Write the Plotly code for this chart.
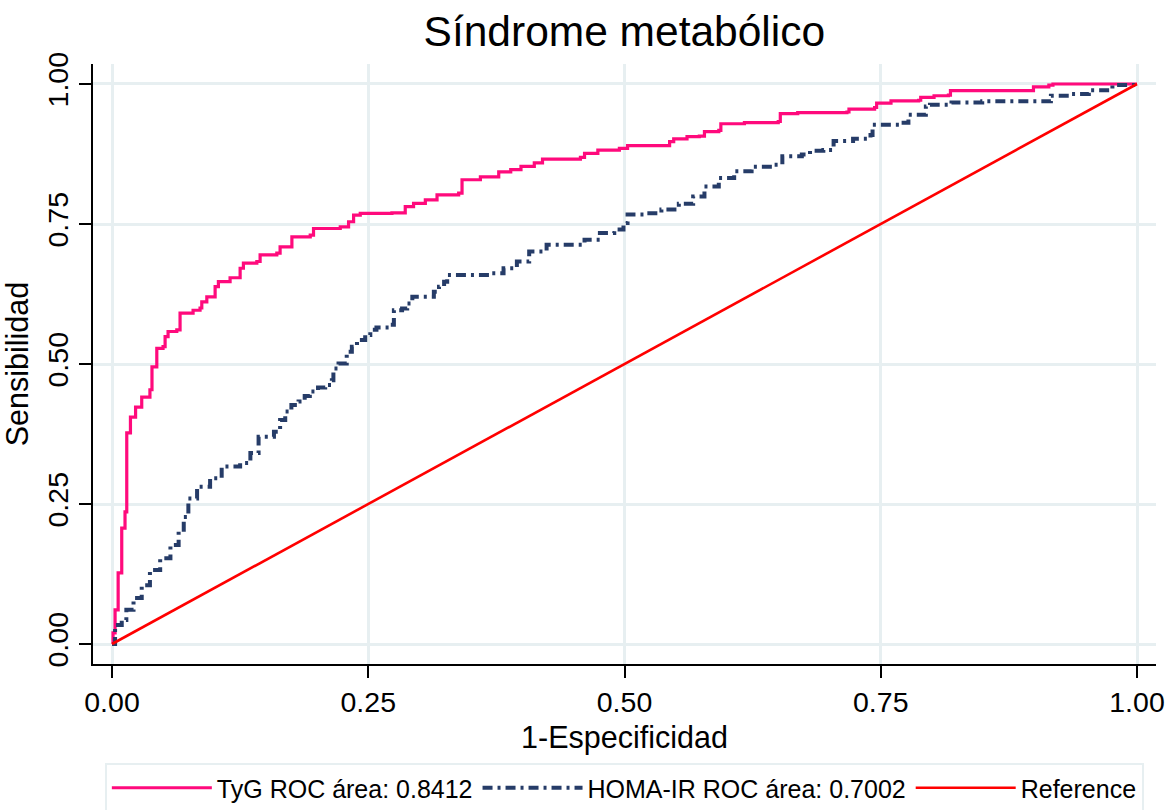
import plotly.graph_objects as go

# ROC curve for TyG (false positive rate, sensitivity)
tyg_fpr = [0, 0.001, 0.003, 0.006, 0.0095, 0.0127, 0.0144, 0.018, 0.023, 0.029,
           0.037, 0.039, 0.0437, 0.0498, 0.0518, 0.0547, 0.0632, 0.0664, 0.0791, 0.0859,
           0.0876, 0.0925, 0.1006, 0.1038, 0.1152, 0.125, 0.1282, 0.1413, 0.1445, 0.1608,
           0.164, 0.1755, 0.1934, 0.1966, 0.2227, 0.2308, 0.2357, 0.2422, 0.2731, 0.2861,
           0.2942, 0.3057, 0.3171, 0.3382, 0.3415, 0.3594, 0.3773, 0.389, 0.399, 0.412,
           0.420, 0.457, 0.461, 0.474, 0.495, 0.503, 0.540, 0.544, 0.548, 0.561,
           0.573, 0.578, 0.592, 0.594, 0.617, 0.650, 0.652, 0.669, 0.717, 0.719,
           0.744, 0.746, 0.760, 0.787, 0.789, 0.802, 0.816, 0.818, 0.897, 0.899,
           0.914, 0.918, 1.0]
tyg_tpr = [0, 0.020, 0.061, 0.127, 0.207, 0.236, 0.377, 0.405, 0.423, 0.441,
           0.454, 0.495, 0.528, 0.531, 0.549, 0.558, 0.561, 0.591, 0.596, 0.600,
           0.611, 0.620, 0.638, 0.647, 0.654, 0.671, 0.680, 0.683, 0.695, 0.698,
           0.709, 0.727, 0.730, 0.742, 0.745, 0.754, 0.766, 0.769, 0.770, 0.781,
           0.787, 0.793, 0.802, 0.805, 0.829, 0.834, 0.843, 0.847, 0.853, 0.859,
           0.866, 0.869, 0.876, 0.882, 0.885, 0.890, 0.890, 0.897, 0.902, 0.906,
           0.907, 0.915, 0.917, 0.929, 0.931, 0.933, 0.947, 0.949, 0.950, 0.955,
           0.958, 0.966, 0.970, 0.971, 0.976, 0.979, 0.980, 0.988, 0.988, 0.995,
           0.998, 1.0, 1.0]

# ROC curve for HOMA-IR
homa_fpr = [0, 0.003, 0.0095, 0.014, 0.021, 0.029, 0.037, 0.047, 0.057, 0.065,
            0.070, 0.0745, 0.083, 0.0957, 0.107, 0.125, 0.135, 0.143, 0.158, 0.164,
            0.169, 0.175, 0.182, 0.188, 0.193, 0.201, 0.208, 0.2145, 0.216, 0.221,
            0.229, 0.234, 0.239, 0.247, 0.252, 0.258, 0.270, 0.275, 0.283, 0.288,
            0.293, 0.307, 0.314, 0.319, 0.324, 0.327, 0.340, 0.369, 0.382, 0.395,
            0.407, 0.424, 0.445, 0.461, 0.476, 0.490, 0.499, 0.503, 0.522, 0.536,
            0.553, 0.567, 0.578, 0.592, 0.607, 0.624, 0.645, 0.654, 0.673, 0.681,
            0.694, 0.704, 0.723, 0.740, 0.742, 0.769, 0.777, 0.794, 0.798, 0.819,
            0.849, 0.910, 0.916, 0.935, 0.953, 0.976, 1.0]
homa_tpr = [0, 0.034, 0.043, 0.061, 0.082, 0.105, 0.132, 0.153, 0.177, 0.204,
            0.227, 0.260, 0.281, 0.296, 0.317, 0.323, 0.341, 0.370, 0.379, 0.400,
            0.415, 0.427, 0.433, 0.443, 0.451, 0.458, 0.4625, 0.471, 0.492, 0.501,
            0.522, 0.531, 0.543, 0.552, 0.561, 0.565, 0.570, 0.596, 0.599, 0.608,
            0.620, 0.620, 0.629, 0.638, 0.647, 0.659, 0.659, 0.662, 0.671, 0.683,
            0.701, 0.713, 0.713, 0.722, 0.734, 0.740, 0.752, 0.767, 0.769, 0.776,
            0.786, 0.799, 0.817, 0.832, 0.844, 0.852, 0.856, 0.871, 0.874, 0.881,
            0.882, 0.898, 0.902, 0.909, 0.927, 0.931, 0.945, 0.960, 0.963, 0.967,
            0.969, 0.969, 0.979, 0.982, 0.989, 0.998, 1.0]

ref_x = [0, 1]
ref_y = [0, 1]

tick_vals = [0, 0.25, 0.5, 0.75, 1.0]
tick_text = ["0.00", "0.25", "0.50", "0.75", "1.00"]

tyg_label = "TyG ROC área: 0.8412"
homa_label = "HOMA-IR ROC área: 0.7002"
ref_label = "Reference"

FONT = "Liberation Sans, Arial, sans-serif"
GRID = "#E7EFF1"

fig = go.Figure()
fig.add_trace(go.Scatter(x=tyg_fpr, y=tyg_tpr, mode="lines", name=tyg_label,
                         line=dict(color="#FF0A7C", width=3.2, shape="hv")))
fig.add_trace(go.Scatter(x=homa_fpr, y=homa_tpr, mode="lines", name=homa_label,
                         line=dict(color="#263C68", width=4, shape="hv",
                                   dash="10px,5px,3px,5px")))
fig.add_trace(go.Scatter(x=ref_x, y=ref_y, mode="lines", name=ref_label,
                         line=dict(color="#FF0000", width=2.6)))

axis_common = dict(
    tickvals=tick_vals, ticktext=tick_text,
    showgrid=True, gridcolor=GRID, gridwidth=3,
    zeroline=False, showline=True, linecolor="black", linewidth=1.5,
    ticks="outside", ticklen=12, tickwidth=1.5, tickcolor="black",
    tickfont=dict(size=28.5, color="black", family=FONT),
    automargin=False,
)

fig.update_xaxes(range=[-0.01854, 1.01854],
                 title=dict(text="1-Especificidad", font=dict(size=30.5, color="black", family=FONT),
                            standoff=10),
                 **axis_common)
fig.update_yaxes(range=[-0.0357, 1.0357], tickangle=-90,
                 title=dict(text="Sensibilidad", font=dict(size=30.5, color="black", family=FONT),
                            standoff=4),
                 **axis_common)

fig.update_layout(
    width=1167, height=810,
    margin=dict(l=93, r=11, t=64, b=146),
    paper_bgcolor="white", plot_bgcolor="white",
    font=dict(family=FONT, color="black"),
    title=dict(text="Síndrome metabólico", x=0.535, xanchor="center",
               y=0.962, yanchor="middle",
               font=dict(size=42.5, color="black", family=FONT)),
    showlegend=True,
    legend=dict(orientation="h", x=0.535, xanchor="center", xref="container",
                y=0.058, yanchor="top", yref="container",
                bordercolor=GRID, borderwidth=2, bgcolor="white",
                font=dict(size=25, color="black", family=FONT),
                itemwidth=100, traceorder="normal"),
)

fig.write_html("out.html")
